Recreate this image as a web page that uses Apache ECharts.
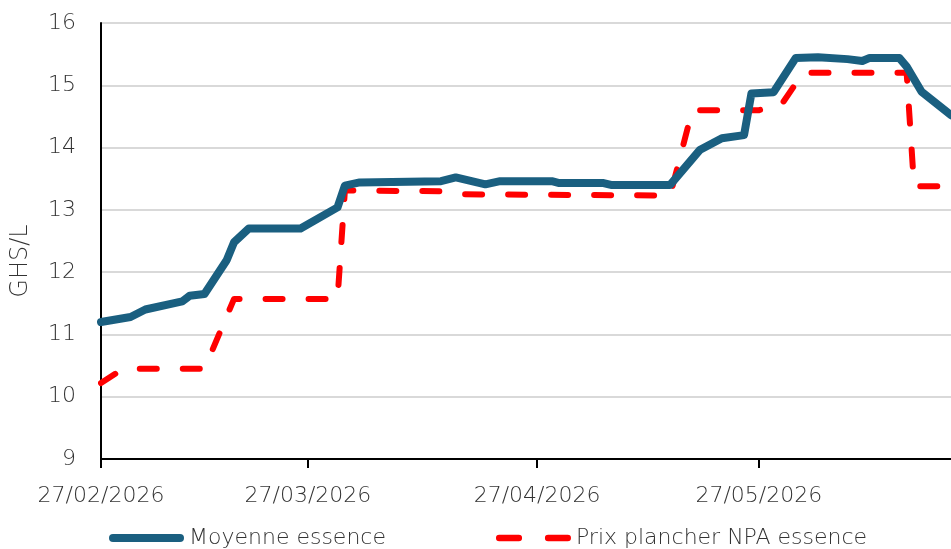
<!DOCTYPE html>
<html>
<head>
<meta charset="utf-8">
<script src="https://cdn.jsdelivr.net/npm/echarts@6/dist/echarts.min.js"></script>
<style>
html,body{margin:0;padding:0;background:#fff;}
#chart{width:951px;height:549px;}
</style>
</head>
<body>
<div id="chart"></div>
<script>
// Moyenne essence
var moyenneDates = ['27/02/2026','03/03/2026','05/03/2026','10/03/2026','11/03/2026','13/03/2026',
	'16/03/2026','17/03/2026','19/03/2026','26/03/2026','31/03/2026','01/04/2026','03/04/2026',
	'14/04/2026','16/04/2026','20/04/2026','22/04/2026','29/04/2026','30/04/2026','06/05/2026',
	'07/05/2026','15/05/2026','19/05/2026','22/05/2026','25/05/2026','26/05/2026','29/05/2026',
	'01/06/2026','04/06/2026','08/06/2026','10/06/2026','11/06/2026','15/06/2026','16/06/2026',
	'18/06/2026','22/06/2026'];
var moyenneValues = [11.20,11.28,11.40,11.53,11.62,11.65,
	12.19,12.48,12.70,12.70,13.04,13.39,13.44,
	13.46,13.52,13.41,13.46,13.46,13.43,13.43,
	13.40,13.40,13.96,14.15,14.20,14.87,14.89,
	15.44,15.45,15.42,15.39,15.44,15.44,15.30,
	14.90,14.52];

// Prix plancher NPA essence
var plancherDates = ['27/02/2026','02/03/2026','13/03/2026','17/03/2026','31/03/2026','01/04/2026',
	'14/04/2026','17/04/2026','15/05/2026','18/05/2026','27/05/2026','30/05/2026','02/06/2026',
	'16/06/2026','17/06/2026','22/06/2026'];
var plancherValues = [10.22,10.45,10.45,11.57,11.57,13.31,
	13.30,13.25,13.23,14.60,14.60,14.68,15.20,
	15.20,13.38,13.38];

var tickDates = ['27/02/2026','27/03/2026','27/04/2026','27/05/2026'];
var axisStart = '27/02/2026';
var axisEnd = '22/06/2026';

function toTime(s){
	var p = s.split('/');
	return new Date(+p[2], +p[1]-1, +p[0]).getTime();
}
function pad(n){
	return n<10 ? '0'+n : ''+n;
}
function fmtDate(v){
	var d = new Date(v);
	return pad(d.getDate())+'/'+pad(d.getMonth()+1)+'/'+d.getFullYear();
}
function pairs(dates,values){
	var out = [];
	for(var i = 0; i < dates.length; i++){
		out.push([toTime(dates[i]),values[i]]);
	}
	return out;
}

var FONT = 'DejaVu Sans';
var FONT_SIZE = 22;
var FONT_WEIGHT = 300;
var TEXT_COLOR = '#333333';
var BLUE = '#1a5f80';
var RED = '#ff0000';

// legend icons: a thick rounded bar and two rounded dashes
var ICON_LINE = 'path://M4,0H71A4,4,0,0,1,71,8H4A4,4,0,0,1,4,0Z';
var ICON_DASH = 'path://M3,0H21A3,3,0,0,1,21,6H3A3,3,0,0,1,3,0Z M48,0H66A3,3,0,0,1,66,6H48A3,3,0,0,1,48,0Z';

var myChart = echarts.init(document.getElementById('chart'));
myChart.setOption({
	animation:false,
	grid:{
		left:101,
		right:0,
		top:23,
		bottom:90,
		containLabel:false
	},
	legend:{
		left:104,
		top:522,
		itemWidth:75,
		itemHeight:12,
		itemGap:110,
		textStyle:{
			fontFamily:FONT,
			fontSize:FONT_SIZE,
			fontWeight:FONT_WEIGHT,
			color:TEXT_COLOR
		},
		data:[
			{name:'Moyenne essence',icon:ICON_LINE,itemStyle:{color:BLUE}},
			{name:'Prix plancher NPA essence',icon:ICON_DASH,itemStyle:{color:RED}}
		]
	},
	xAxis:{
		type:'value',
		min:toTime(axisStart),
		max:toTime(axisEnd),
		axisLine:{
			show:true,
			lineStyle:{color:'#000',width:2}
		},
		axisTick:{
			show:true,
			length:9,
			customValues:tickDates.map(toTime),
			lineStyle:{color:'#000',width:2}
		},
		axisLabel:{
			customValues:tickDates.map(toTime),
			formatter:function(v){ return fmtDate(v); },
			margin:26,
			fontFamily:FONT,
			fontSize:FONT_SIZE,
			fontWeight:FONT_WEIGHT,
			color:TEXT_COLOR,
			hideOverlap:false
		},
		splitLine:{show:false}
	},
	yAxis:{
		type:'value',
		min:9,
		max:16,
		interval:1,
		name:'GHS/L',
		nameLocation:'middle',
		nameGap:68,
		nameTextStyle:{
			fontFamily:FONT,
			fontSize:24,
			fontWeight:FONT_WEIGHT,
			color:TEXT_COLOR,
			padding:[0,40,0,0]
		},
		axisLine:{
			show:true,
			lineStyle:{color:'#000',width:2}
		},
		axisTick:{show:false},
		axisLabel:{
			margin:25,
			fontFamily:FONT,
			fontSize:FONT_SIZE,
			fontWeight:FONT_WEIGHT,
			color:TEXT_COLOR
		},
		splitLine:{
			show:true,
			lineStyle:{color:'#d9d9d9',width:2}
		}
	},
	series:[
		{
			name:'Moyenne essence',
			type:'line',
			symbol:'none',
			z:3,
			itemStyle:{color:BLUE},
			lineStyle:{
				color:BLUE,
				width:8,
				cap:'round',
				join:'round'
			},
			data:pairs(moyenneDates,moyenneValues)
		},
		{
			name:'Prix plancher NPA essence',
			type:'line',
			symbol:'none',
			z:2,
			itemStyle:{color:RED},
			lineStyle:{
				color:RED,
				width:6,
				type:[17,26],
				cap:'round',
				join:'round'
			},
			data:pairs(plancherDates,plancherValues)
		}
	]
});
</script>
</body>
</html>
